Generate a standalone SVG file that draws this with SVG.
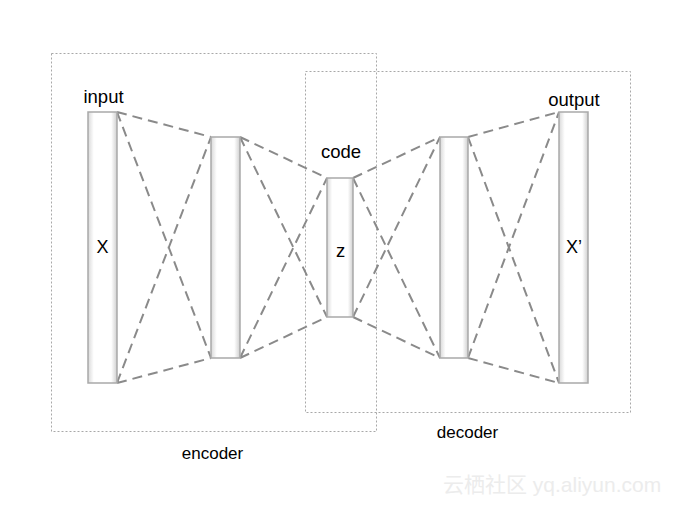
<svg xmlns="http://www.w3.org/2000/svg" width="677" height="506" viewBox="0 0 677 506">
<style>
.box{fill:none;stroke:#a8a8a8;stroke-width:1;stroke-dasharray:2 2}
.bar{fill:url(#g);stroke:#a9a9a9;stroke-width:1.5}
.con{stroke:#8a8a8a;stroke-width:2;stroke-dasharray:10 6;fill:none}
.lbl{font-family:"Liberation Sans",Arial,sans-serif;font-size:18.5px;fill:#000}
.grp{font-family:"Liberation Sans",Arial,sans-serif;font-size:17px;fill:#000}
.big{font-family:"Liberation Sans",Arial,sans-serif;font-size:18px;fill:#000}
.wm{font-family:"Liberation Sans","Noto Sans CJK SC",sans-serif;font-size:21px;fill:#ececec}
</style>
<defs>
<linearGradient id="g" x1="0" y1="0" x2="1" y2="0">
<stop offset="0" stop-color="#d8d8d8"/>
<stop offset="0.2" stop-color="#ffffff"/>
<stop offset="0.8" stop-color="#ffffff"/>
<stop offset="1" stop-color="#cfcfcf"/>
</linearGradient>
</defs>
<rect width="677" height="506" fill="#fff"/>
<g id="encoder">
<rect class="box" x="51.5" y="53.5" width="325" height="378"/>
<text class="grp" x="212.5" y="459" text-anchor="middle">encoder</text>
</g>
<g id="decoder">
<rect class="box" x="305.5" y="71.5" width="325" height="341"/>
<text class="grp" x="467.5" y="438" text-anchor="middle">decoder</text>
</g>
<g id="connectors">
<path class="con" d="M117 112L211 137M117 383L211 358M117 112L211 358M117 383L211 137"/>
<path class="con" d="M240 137L327 178M240 358L327 317M240 137L327 317M240 358L327 178"/>
<path class="con" d="M353 178L440 137M353 317L440 358M353 178L440 358M353 317L440 137"/>
<path class="con" d="M468 137L559 112M468 358L559 383M468 137L559 383M468 358L559 112"/>
</g>
<g id="input">
<rect class="bar" x="88" y="112" width="29" height="271"/>
<text class="lbl" x="103.5" y="103" text-anchor="middle">input</text>
<text class="big" x="102.5" y="253" text-anchor="middle">X</text>
</g>
<g id="hidden1">
<rect class="bar" x="211" y="137" width="29" height="221"/>
</g>
<g id="code">
<rect class="bar" x="327" y="178" width="26" height="139"/>
<text class="lbl" x="341" y="158" text-anchor="middle">code</text>
<text class="lbl" x="340.5" y="257" text-anchor="middle">z</text>
</g>
<g id="hidden2">
<rect class="bar" x="440" y="137" width="28" height="221"/>
</g>
<g id="output">
<rect class="bar" x="559" y="112" width="29" height="271"/>
<text class="lbl" x="574" y="106" text-anchor="middle">output</text>
<text class="big" x="574" y="253" text-anchor="middle">X’</text>
</g>
<text class="wm" x="443" y="492">云栖社区 yq.aliyun.com</text>
</svg>
